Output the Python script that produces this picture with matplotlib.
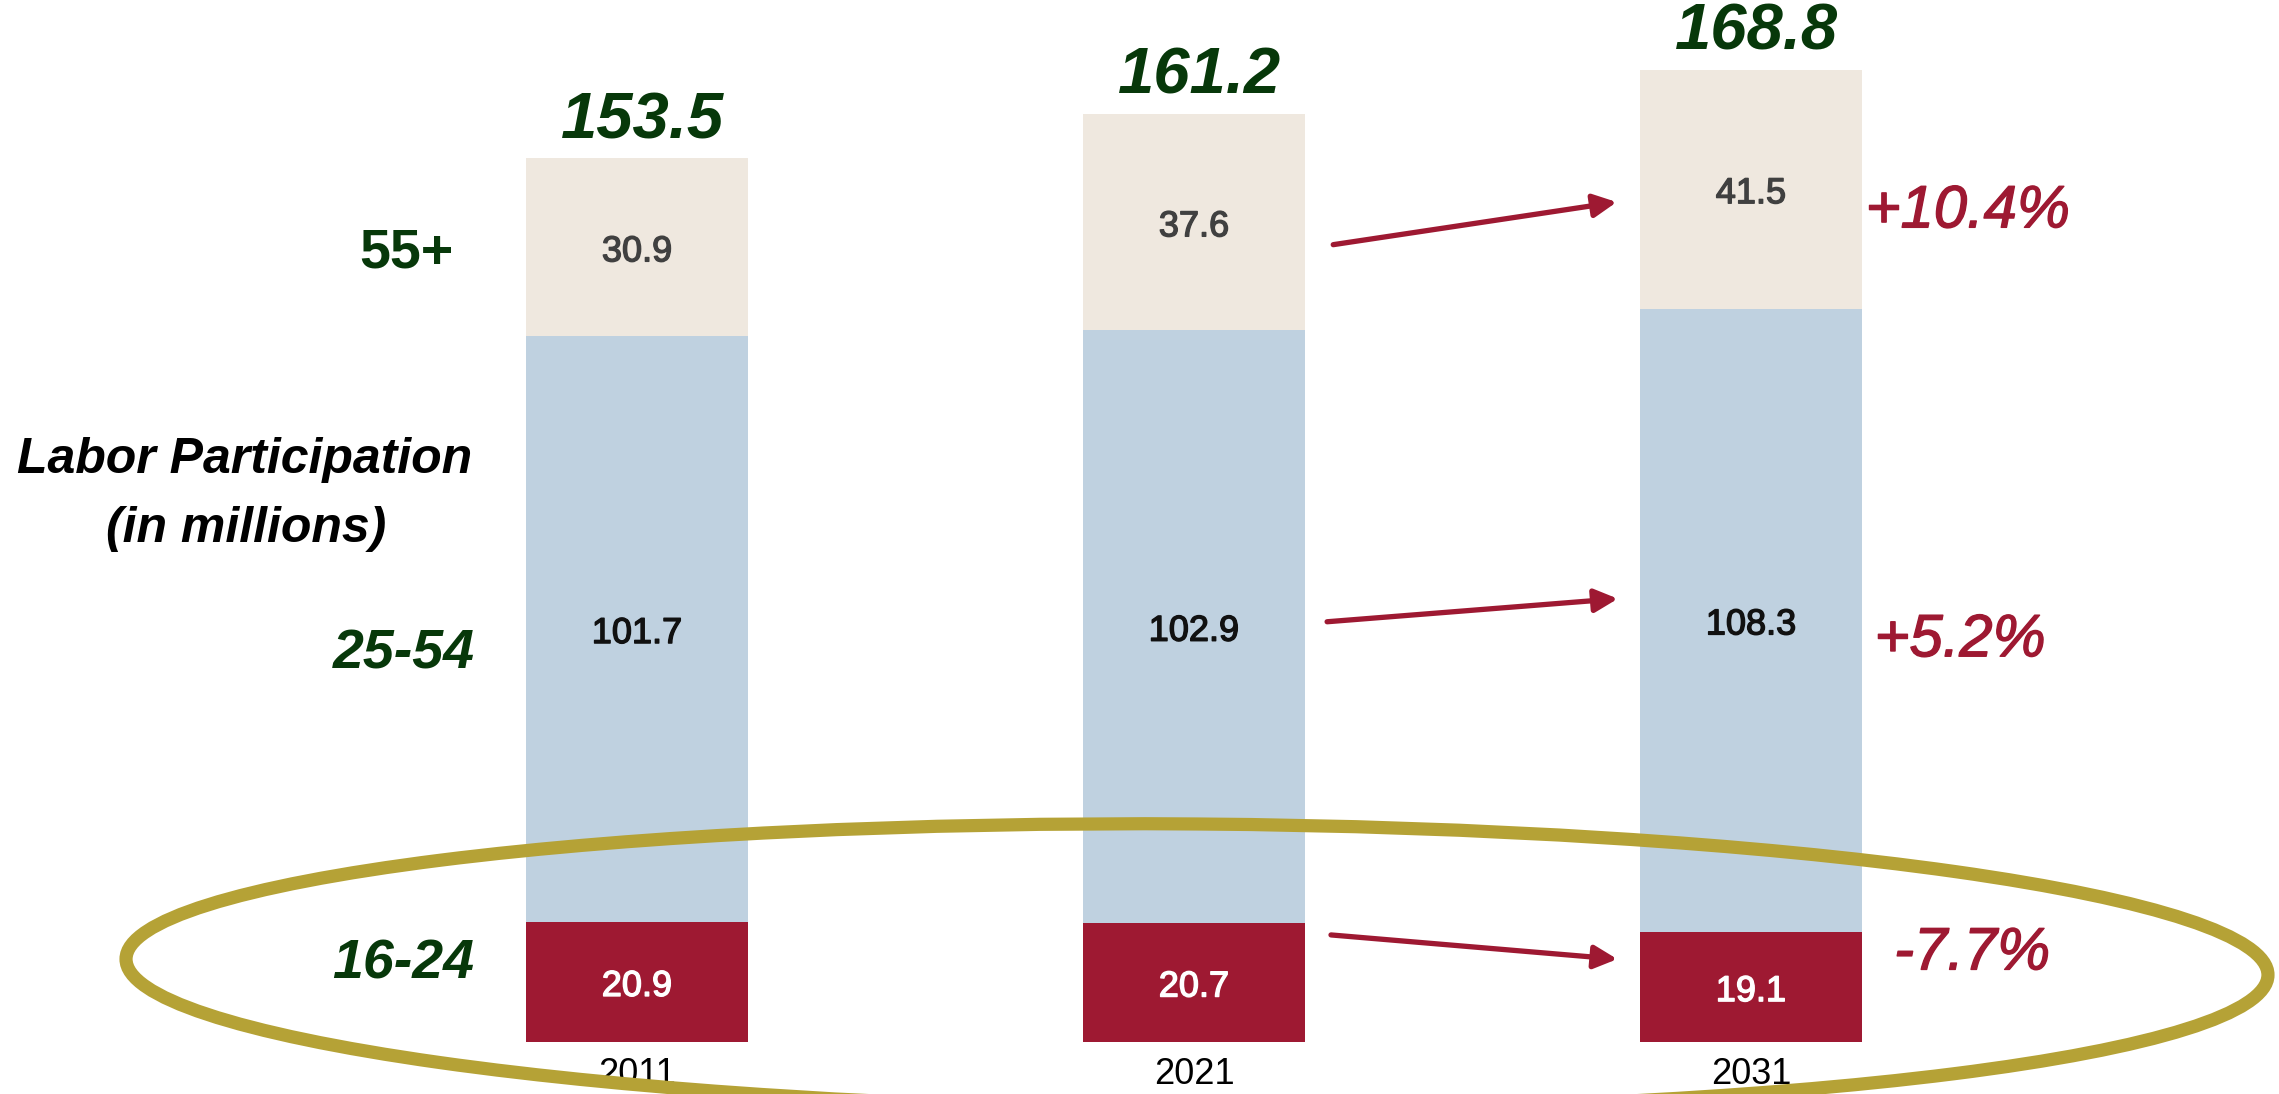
import matplotlib
matplotlib.use("Agg")
import matplotlib.pyplot as plt
import matplotlib.patheffects as pe
from matplotlib.patches import Ellipse, FancyArrowPatch

# ---------------- data ----------------
years = ["2011", "2021", "2031"]
age_groups = ["16-24", "25-54", "55+"]
age_16_24 = [20.9, 20.7, 19.1]
age_25_54 = [101.7, 102.9, 108.3]
age_55_plus = [30.9, 37.6, 41.5]
totals = [153.5, 161.2, 168.8]
pct_change = ["-7.7%", "+5.2%", "+10.4%"]   # 2021 -> 2031, bottom to top
y_title = ["Labor Participation", "(in millions)"]

# ---------------- style ----------------
RED = "#9E1932"
BLUE = "#BFD1E0"
BEIGE = "#EFE8DF"
GOLD = "#B5A236"
GREEN = "#07380A"
FONT = ["Liberation Sans", "DejaVu Sans"]

fig = plt.figure(figsize=(22.79, 10.94), dpi=100)
ax = fig.add_axes([0, 0, 1, 1])
ax.set_xlim(-1.1436, 2.948)
ax.set_ylim(-9.03, 181.0)
ax.axis("off")

x = list(range(len(years)))
w = 0.40
b1 = ax.bar(x, age_16_24, width=w, color=RED, zorder=2)
bottom2 = age_16_24
b2 = ax.bar(x, age_25_54, width=w, bottom=bottom2, color=BLUE, zorder=2)
bottom3 = [a + b for a, b in zip(age_16_24, age_25_54)]
b3 = ax.bar(x, age_55_plus, width=w, bottom=bottom3, color=BEIGE, zorder=2)

# segment labels
for bars, vals, col in ((b1, age_16_24, "white"), (b2, age_25_54, "#111111"),
                        (b3, age_55_plus, "#404040")):
    for r, v in zip(bars, vals):
        ax.text(r.get_x() + r.get_width() / 2, r.get_y() + r.get_height() / 2 - 0.8,
                f"{v:.1f}", ha="center", va="center", fontsize=26,
                fontweight="normal", color=col, family=FONT, zorder=3,
                path_effects=[pe.withStroke(linewidth=1.0, foreground=col)])

# totals
for xi, t, top in zip(x, totals, [a + b for a, b in zip(bottom3, age_55_plus)]):
    ax.text(xi + 0.01, top + 3.5, f"{t:.1f}", ha="center", va="baseline",
            fontsize=47, fontweight="bold", fontstyle="italic", color=GREEN,
            family=FONT, zorder=3)

# year labels
for xi, yr in zip(x, years):
    ax.text(xi, -7.3, yr, ha="center", va="baseline", fontsize=26, color="black",
            family=FONT, zorder=3)

# left group labels
ax.text(-0.330, bottom3[0] + age_55_plus[0] / 2 - 1.0, age_groups[2], ha="right",
        va="center", fontsize=40, fontweight="bold", color=GREEN, family=FONT)
ax.text(-0.291, age_16_24[0] + age_25_54[0] / 2 - 4.4, age_groups[1], ha="right",
        va="center", fontsize=40, fontweight="bold", fontstyle="italic",
        color=GREEN, family=FONT)
ax.text(-0.293, 13.4, age_groups[0], ha="right", va="center",
        fontsize=40, fontweight="bold", fontstyle="italic", color=GREEN, family=FONT)

ax.text(-0.704, 98.85, y_title[0], ha="center", va="baseline", fontsize=36,
        fontweight="bold", fontstyle="italic", color="black", family=FONT)
ax.text(-0.702, 86.9, y_title[1], ha="center", va="baseline", fontsize=36,
        fontweight="bold", fontstyle="italic", color="black", family=FONT)

# arrows 2021 -> 2031
arrow_pts = [((1.246, 18.6), (1.760, 14.4)),
             ((1.239, 73.0), (1.761, 77.0)),
             ((1.250, 138.5), (1.759, 145.9))]
for (p0, p1) in arrow_pts:
    ax.add_patch(FancyArrowPatch(p0, p1, arrowstyle="-|>,head_length=14,head_width=7",
                                 mutation_scale=1, lw=3.8, color=RED,
                                 shrinkA=0, shrinkB=0, zorder=4))

# percent labels
pct_pos = [(2.257, 15.3), (2.222, 69.7), (2.206, 144.2)]
for (px, py), s in zip(pct_pos, pct_change):
    ax.text(px, py, s, ha="left", va="center", fontsize=43, fontstyle="italic",
            color=RED, family=FONT, zorder=3,
            path_effects=[pe.withStroke(linewidth=1.0, foreground=RED)])

# highlight ellipse (in inches on the figure)
ell = Ellipse((11.97, 1.27), 21.42, 2.86, angle=-0.43, fill=False,
              edgecolor=GOLD, lw=9.5, transform=fig.dpi_scale_trans, zorder=5)
fig.patches.append(ell)

fig.savefig("out.png", dpi=100)
